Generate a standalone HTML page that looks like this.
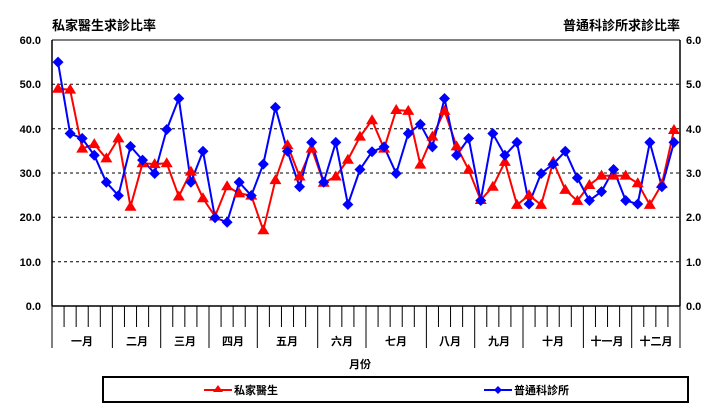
<!DOCTYPE html>
<html><head><meta charset="utf-8"><style>
body{margin:0;background:#fff;}
svg{display:block;font-family:"Liberation Sans","Noto Sans CJK TC",sans-serif;font-weight:bold;}
</style></head><body>
<svg width="724" height="419" viewBox="0 0 724 419" xmlns="http://www.w3.org/2000/svg">
<rect width="724" height="419" fill="#fff"/>
<text x="52" y="30" font-size="13" fill="#000">私家醫生求診比率</text>
<text x="680" y="30" font-size="13" fill="#000" text-anchor="end">普通科診所求診比率</text>
<g stroke="#000" stroke-dasharray="3,3" stroke-width="1">
<line x1="52" y1="84.3" x2="680" y2="84.3"/>
<line x1="52" y1="128.7" x2="680" y2="128.7"/>
<line x1="52" y1="173" x2="680" y2="173"/>
<line x1="52" y1="217.3" x2="680" y2="217.3"/>
<line x1="52" y1="261.7" x2="680" y2="261.7"/>
</g>
<line x1="52" y1="40" x2="680" y2="40" stroke="#808080" stroke-width="2"/>
<line x1="52" y1="40" x2="52" y2="306" stroke="#000" stroke-width="1.5"/>
<line x1="680" y1="40" x2="680" y2="306" stroke="#000" stroke-width="1.5"/>
<line x1="52" y1="306" x2="680" y2="306" stroke="#000" stroke-width="1.5"/>
<g font-size="11" fill="#000" text-anchor="end">
<text x="41" y="44">60.0</text><text x="41" y="88">50.0</text><text x="41" y="133">40.0</text><text x="41" y="177">30.0</text><text x="41" y="221">20.0</text><text x="41" y="266">10.0</text><text x="41" y="310">0.0</text>
</g>
<g font-size="11" fill="#000">
<text x="686" y="44">6.0</text><text x="686" y="88">5.0</text><text x="686" y="133">4.0</text><text x="686" y="177">3.0</text><text x="686" y="221">2.0</text><text x="686" y="266">1.0</text><text x="686" y="310">0.0</text>
</g>
<g id="ticks" stroke="#000" stroke-width="1"></g>
<g font-size="11" fill="#000" text-anchor="middle">
<text x="82" y="345">一月</text><text x="137" y="345">二月</text><text x="185" y="345">三月</text><text x="233" y="345">四月</text><text x="287" y="345">五月</text><text x="342" y="345">六月</text><text x="396" y="345">七月</text><text x="450" y="345">八月</text><text x="499" y="345">九月</text><text x="553" y="345">十月</text><text x="607" y="345">十一月</text><text x="656" y="345">十二月</text>
<text x="360" y="368">月份</text>
</g>
<polyline id="red" fill="none" stroke="#ff0000" stroke-width="2"/>
<polyline id="blue" fill="none" stroke="#0000ff" stroke-width="2"/>
<g id="rm" fill="#ff0000"></g>
<g id="bm" fill="#0000ff"></g>
<rect x="103" y="377" width="585" height="25" fill="none" stroke="#000" stroke-width="2"/>
<line x1="204" y1="390" x2="232" y2="390" stroke="#ff0000" stroke-width="2"/>
<polygon points="218,385 223,392 213,392" fill="#ff0000"/>
<text x="234" y="394" font-size="11">私家醫生</text>
<line x1="484" y1="390" x2="512" y2="390" stroke="#0000ff" stroke-width="2"/>
<polygon points="498,386 502,390 498,394 494,390" fill="#0000ff"/>
<text x="514" y="394" font-size="11">普通科診所</text>
</svg>
<script>
var R=[49,48.8,35.5,36.5,33.3,37.8,22.4,32.2,32,32.2,24.7,30.3,24.3,20.2,27,25.4,24.9,17.1,28.4,36.3,29.2,35.5,27.8,29.2,33,38.2,
41.9,35.5,44.2,44,31.9,38.2,44,36,30.7,23.9,26.9,32.5,22.8,25,22.8,32.5,26.2,23.7,27.3,29.4,29.4,29.4,27.7,22.8,27.5,39.7];
var B=[55,38.9,37.8,34,27.9,24.9,36,32.9,29.9,39.8,46.8,27.9,34.9,19.9,18.9,27.9,24.9,32,44.8,34.9,26.9,36.9,27.9,36.9,22.9,30.8,
34.8,35.9,29.9,38.9,41,35.9,46.8,34,37.8,23.8,38.9,34,36.9,23,29.9,32,34.9,28.9,23.8,25.8,30.8,23.8,23,36.9,26.9,36.9];
var w=628/52,ns="http://www.w3.org/2000/svg";
function X(i){return 52+w*(i+0.5);}function Y(v){return 306-v*266/60;}
var rp=[],bp=[];
for(var i=0;i<52;i++){var x=X(i);rp.push(x.toFixed(1)+","+Y(R[i]).toFixed(1));bp.push(x.toFixed(1)+","+Y(B[i]).toFixed(1));
var t=document.createElementNS(ns,"polygon");var y=Y(R[i]);t.setAttribute("points",x+","+(y-6)+" "+(x+6)+","+(y+4)+" "+(x-6)+","+(y+4));document.getElementById("rm").appendChild(t);
var d=document.createElementNS(ns,"polygon");y=Y(B[i]);d.setAttribute("points",x+","+(y-5.5)+" "+(x+5.5)+","+y+" "+x+","+(y+5.5)+" "+(x-5.5)+","+y);document.getElementById("bm").appendChild(d);}
document.getElementById("red").setAttribute("points",rp.join(" "));
document.getElementById("blue").setAttribute("points",bp.join(" "));
var bounds=[0,5,9,13,17,22,26,31,35,39,44,48,52];
var tg=document.getElementById("ticks");
for(var k=0;k<=52;k++){var x=52+w*k;var l=document.createElementNS(ns,"line");var long=bounds.indexOf(k)>=0;
l.setAttribute("x1",x);l.setAttribute("x2",x);l.setAttribute("y1",306);l.setAttribute("y2",long?348:327);tg.appendChild(l);}
</script>
</body></html>
